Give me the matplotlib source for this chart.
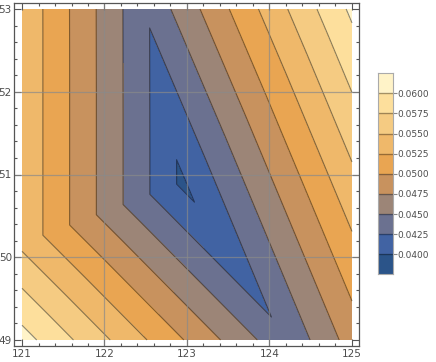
import numpy as np
import matplotlib.pyplot as plt
import matplotlib.tri as mtri
from matplotlib.colors import ListedColormap, BoundaryNorm

# sample points (lon, lat) and values
node_x = [121.0, 125.0, 125.0, 121.0, 122.93, 122.50, 121.0, 124.21]
node_y = [49.0, 49.0, 53.0, 53.0, 50.905, 53.0, 50.17, 49.0]
node_val = [0.0610, 0.0486, 0.0605, 0.05445, 0.03957, 0.04286, 0.05445, 0.0430]
tris = [[4, 5, 3], [4, 3, 6], [4, 6, 0], [4, 0, 7], [4, 7, 1], [4, 1, 2], [4, 2, 5]]

levels = [0.0400, 0.0425, 0.0450, 0.0475, 0.0500, 0.0525, 0.0550, 0.0575, 0.0600]
level_labels = ['0.0400', '0.0425', '0.0450', '0.0475', '0.0500',
                '0.0525', '0.0550', '0.0575', '0.0600']
band_colors = ['#2b5489', '#4163a3', '#6b7190', '#9c8577', '#c8925e',
               '#e9a552', '#efb86a', '#f5cb82', '#fddf9c', '#fff3c8']

fig = plt.figure(figsize=(4.36, 3.62), dpi=100)
ax = fig.add_axes([14/436, 1-346/362, 345/436, 343/362])

tri = mtri.Triangulation(node_x, node_y, tris)
fill_levels = [0.0] + levels + [1.0]
ax.tricontourf(tri, node_val, levels=fill_levels, colors=band_colors)
ax.tricontour(tri, node_val, levels=levels, colors='black', linewidths=0.8, alpha=0.45)

for g in [122, 123, 124]:
    ax.axvline(g, color='#8a8a8a', lw=0.9, alpha=0.7)
for g in [50, 51, 52]:
    ax.axhline(g, color='#8a8a8a', lw=0.9, alpha=0.7)

ax.set_xlim(120.903, 125.085)
ax.set_ylim(48.9275, 53.0725)
ax.set_xticks([121, 122, 123, 124, 125])
ax.set_yticks([49, 50, 51, 52, 53])
ax.set_xticks(np.arange(121, 125.01, 0.2), minor=True)
ax.set_yticks(np.arange(49, 53.01, 0.2), minor=True)
ax.tick_params(which='both', direction='in', top=True, right=True, color='#555555',
               labelsize=7.5, labelcolor='#4d4d4d', width=0.8)
ax.tick_params(which='major', length=5)
ax.tick_params(which='minor', length=2.5)
ax.tick_params(axis='x', pad=2.5)
ax.tick_params(axis='y', pad=1.5)
for s in ax.spines.values():
    s.set_color('#555555')
    s.set_linewidth(0.9)

# legend bar
cax = fig.add_axes([378/436, 1-274.3/362, 14.5/436, 201/362])
bounds = [0.0375] + levels + [0.0625]
cmap = ListedColormap(band_colors)
norm = BoundaryNorm(bounds, cmap.N)
cax.pcolormesh([0, 1], bounds, np.array(bounds[:-1])[:, None] + 0.0001, cmap=cmap, norm=norm)
for lv in levels:
    cax.axhline(lv, color='black', lw=1.0, alpha=0.35)
cax.set_xlim(0, 1)
cax.set_ylim(0.0375, 0.0625)
cax.set_xticks([])
cax.yaxis.tick_right()
cax.set_yticks(levels)
cax.set_yticklabels(level_labels)
cax.tick_params(axis='y', direction='out', length=3, color='#888888', labelsize=6.5,
                labelcolor='#4d4d4d', pad=0.5, width=0.8)
for s in cax.spines.values():
    s.set_color('#aaaaaa')
    s.set_linewidth(0.8)

plt.savefig('out.png', dpi=100)
